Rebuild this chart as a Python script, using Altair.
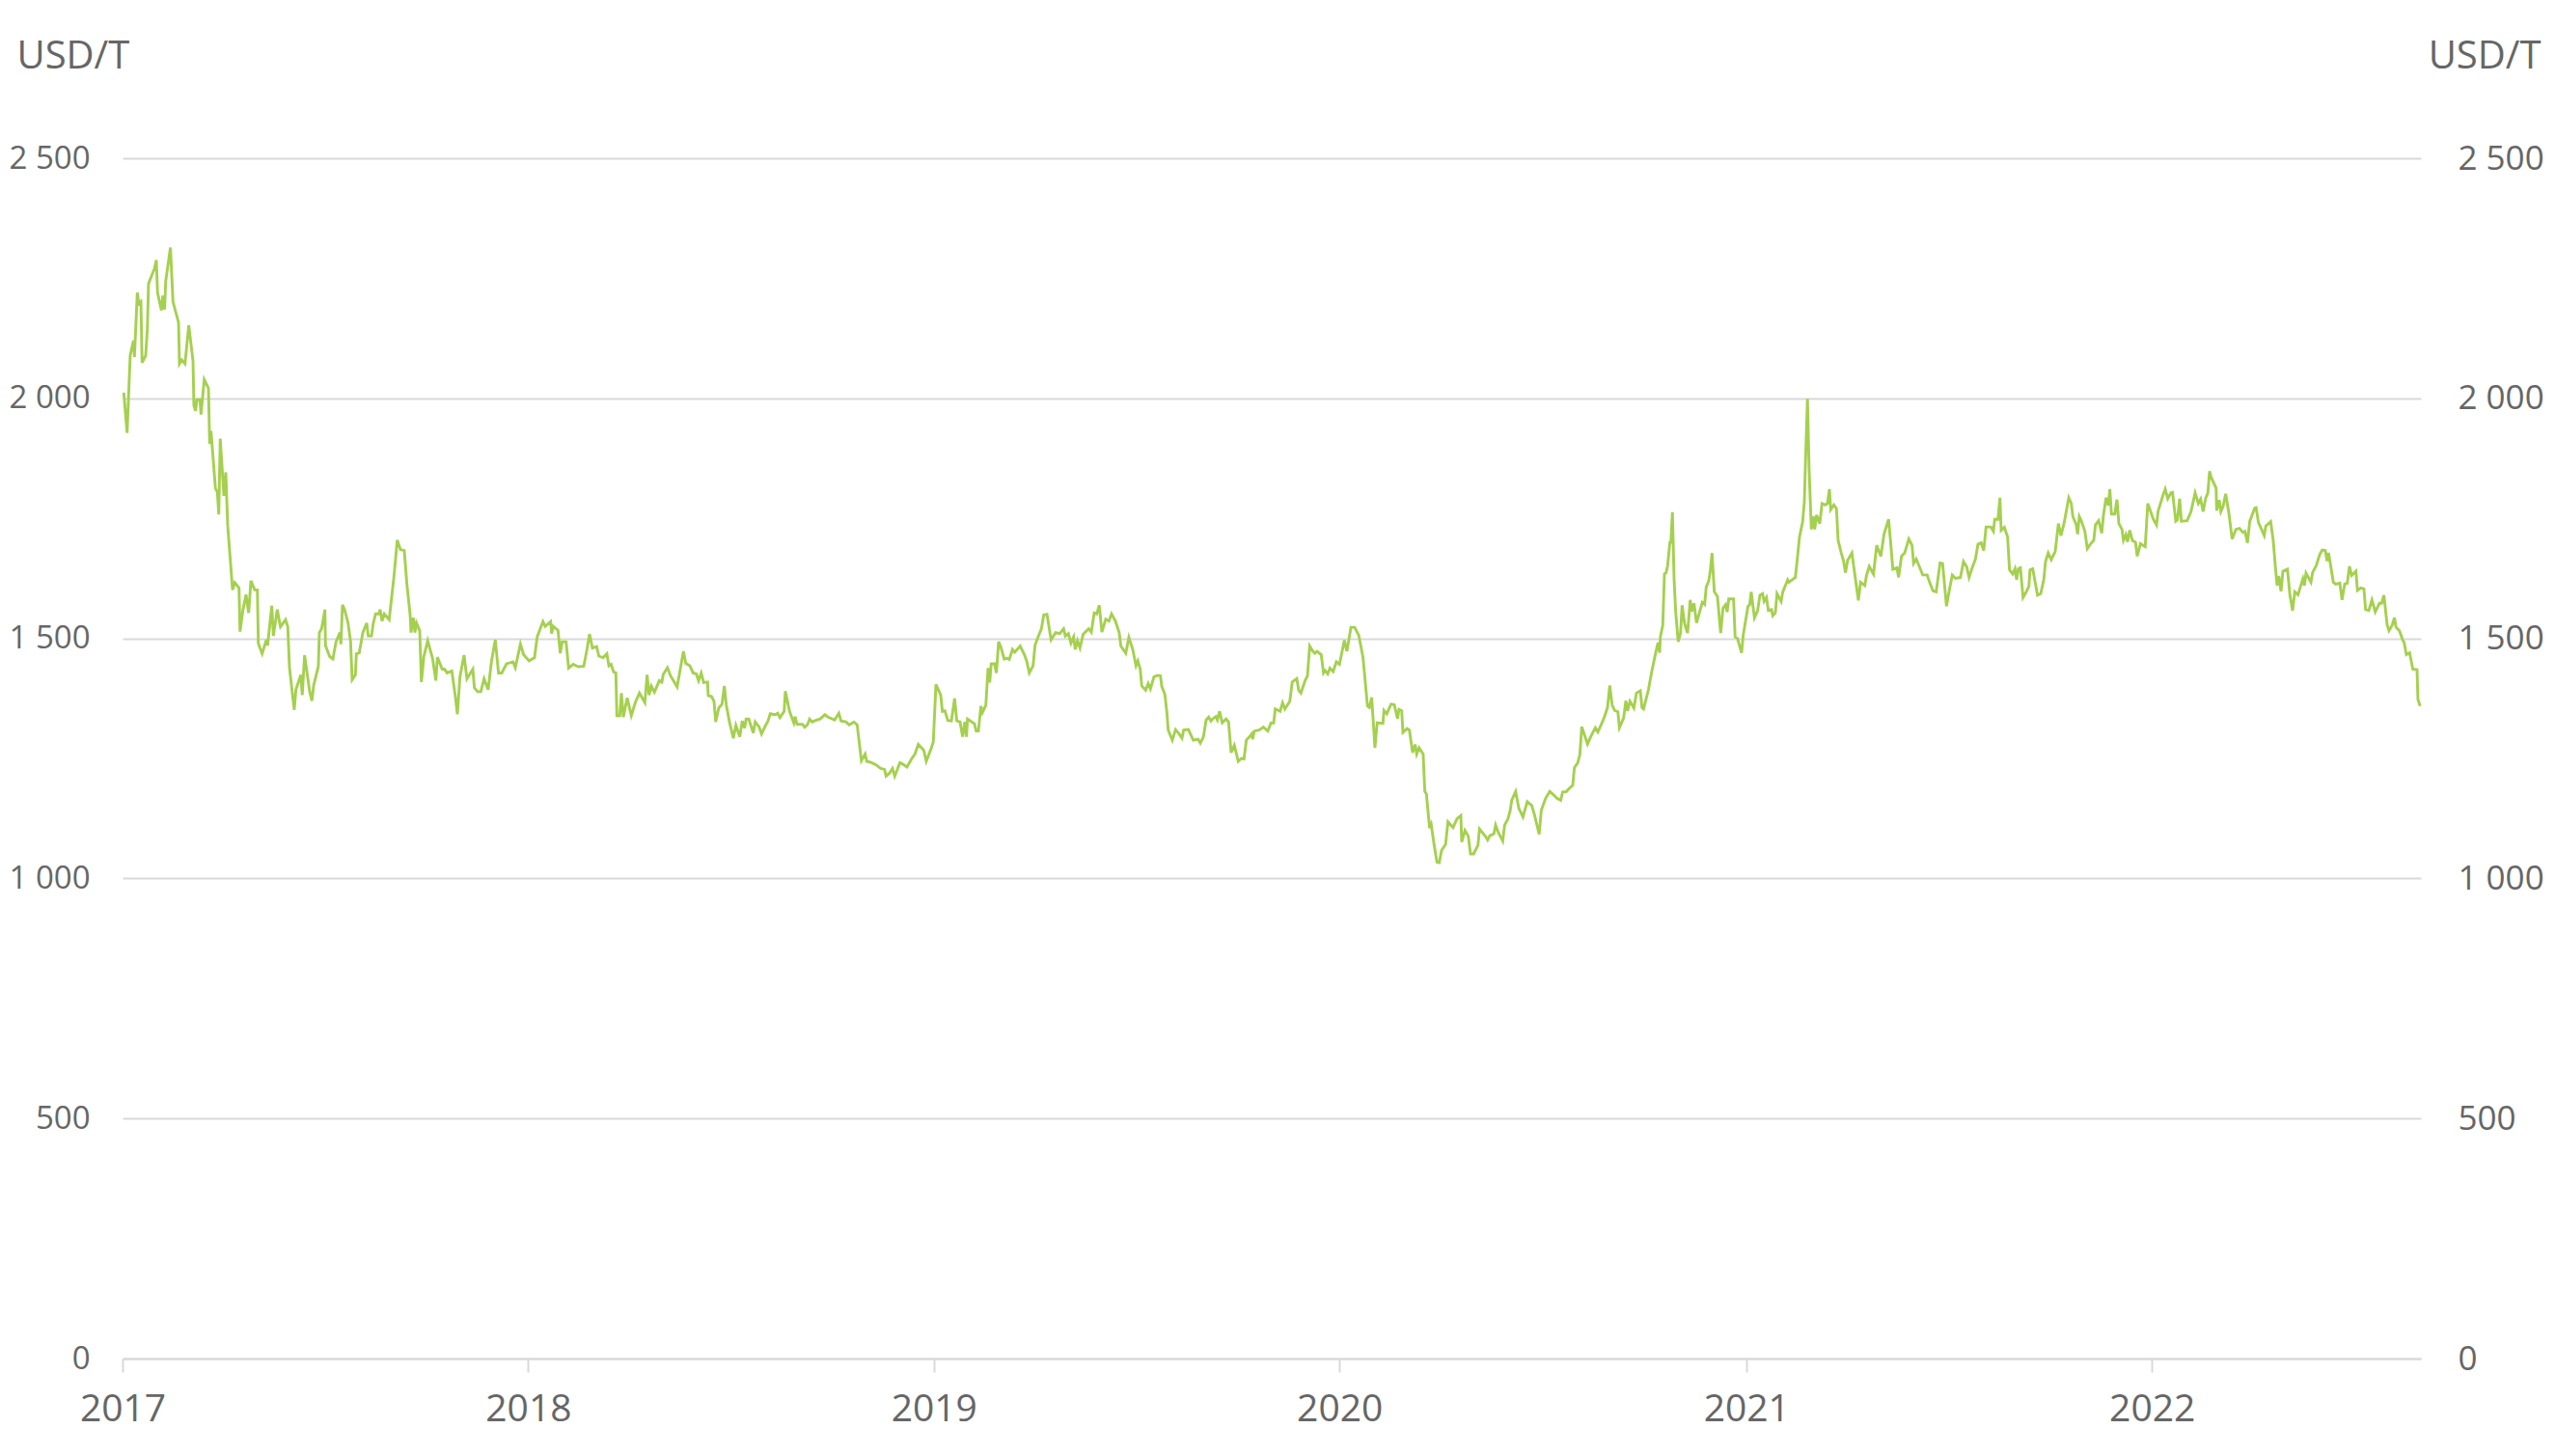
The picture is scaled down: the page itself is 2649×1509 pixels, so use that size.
import altair as alt
import pandas as pd

# ---- data (days after 2017-01-01, price USD/T) ----
DAYS_2017 = [1.1, 4.1, 6.9, 9.8, 10.7, 13.3, 14.8, 16.5, 17.6, 20.8,
             22.3, 23.4, 28.7, 30.4, 31.5, 35.0, 36.2, 37.9, 38.8, 43.1,
             45.4, 50.4, 51.2, 53.2, 56.2, 57.6, 59.6, 63.4, 64.2, 65.7,
             66.9, 69.7, 70.6, 73.5, 77.3, 78.4, 79.6, 83.6, 85.3, 86.6,
             87.9, 91.2, 92.9, 94.6, 99.0, 101.0, 104.8, 105.7, 108.3, 111.1,
             113.5, 115.5, 118.9, 121.3, 122.2, 125.6, 129.4, 130.5, 134.3, 135.7,
             139.2, 142.1, 146.7, 148.7, 150.2, 154.5, 156.0, 160.4, 161.7, 163.8,
             168.4, 170.4, 171.9, 176.2, 177.1, 179.1, 182.1, 182.6, 186.4, 189.3,
             192.1, 195.6, 196.5, 197.9, 199.9, 202.9, 205.2, 206.6, 209.5, 210.4,
             213.0, 216.2, 219.7, 221.1, 224.0, 225.5, 227.7, 230.7, 231.8, 233.5,
             235.5, 239.9, 244.2, 247.2, 250.0, 253.5, 255.9, 258.7, 259.6, 261.6,
             263.1, 264.5, 267.4, 268.9, 271.1, 274.6, 279.0, 281.9, 283.3, 287.6,
             289.7, 292.0, 296.3, 299.3, 301.3, 303.6, 307.3, 309.9, 315.2, 316.6,
             319.5, 322.4, 325.3, 329.0, 331.9, 335.4, 338.3, 341.2, 345.5, 351.4,
             353.4, 358.0]
PRICE_2017 = [2012, 1928, 2089, 2120, 2086, 2220, 2197, 2201, 2074, 2089,
              2143, 2239, 2270, 2288, 2220, 2183, 2214, 2185, 2243, 2314,
              2201, 2158, 2072, 2080, 2072, 2105, 2152, 2078, 1985, 1974,
              1997, 1997, 1966, 2039, 2021, 1905, 1932, 1812, 1805, 1758,
              1916, 1797, 1846, 1736, 1601, 1616, 1605, 1514, 1559, 1591,
              1553, 1620, 1601, 1601, 1489, 1468, 1497, 1485, 1568, 1505,
              1560, 1524, 1539, 1524, 1439, 1351, 1393, 1424, 1382, 1465,
              1389, 1370, 1401, 1442, 1512, 1520, 1560, 1485, 1462, 1457,
              1493, 1512, 1488, 1570, 1559, 1532, 1493, 1414, 1424, 1468,
              1470, 1512, 1532, 1505, 1505, 1530, 1551, 1551, 1560, 1536,
              1551, 1539, 1628, 1705, 1685, 1683, 1612, 1551, 1512, 1543,
              1512, 1532, 1516, 1409, 1462, 1495, 1458, 1412, 1461, 1436,
              1436, 1428, 1432, 1382, 1342, 1420, 1465, 1416, 1436, 1397,
              1389, 1389, 1416, 1393, 1451, 1497, 1428, 1428, 1447, 1451,
              1439, 1488]

DAYS_2018 = [360.9, 365.8, 370.7, 373.1, 375.3, 378.3, 380.3, 385.2, 386.1, 387.5,
             391.8, 393.9, 395.6, 399.1, 401.4, 405.5, 410.1, 415.0, 417.9, 420.2,
             422.8, 426.6, 428.6, 432.4, 435.8, 437.6, 439.6, 441.9, 443.9, 444.8,
             447.4, 448.9, 450.6, 454.1, 457.8, 461.3, 465.1, 470.0, 472.0, 473.8,
             475.8, 478.6, 483.0, 485.3, 486.5, 490.3, 493.1, 499.0, 504.7, 506.8,
             510.5, 513.4, 516.3, 518.3, 520.7, 522.9, 526.4, 527.0, 529.9, 532.2,
             533.7, 536.5, 539.4, 541.5, 543.2, 546.1, 549.6, 551.9, 555.4, 557.6,
             559.7, 561.1, 563.5, 567.5, 569.3, 572.7, 575.0, 578.0, 580.8, 582.8,
             587.2, 589.5, 591.5, 595.3, 596.4, 600.2, 604.0, 605.1, 606.9, 611.8,
             613.8, 616.2, 618.2, 620.5, 624.8, 627.7, 632.0, 634.9, 640.7, 644.5,
             646.5, 650.9, 653.8, 658.1, 661.0, 664.8, 668.2, 669.6, 674.0, 678.3,
             682.2, 685.6, 687.0, 690.0, 692.8, 694.8, 699.5, 701.5, 705.8, 710.2,
             713.0, 716.0, 718.9, 720.9, 723.2]
PRICE_2018 = [1466, 1453, 1460, 1503, 1517, 1535, 1525, 1535, 1510, 1525,
              1517, 1469, 1493, 1493, 1438, 1446, 1441, 1442, 1477, 1509,
              1480, 1483, 1463, 1460, 1468, 1443, 1446, 1430, 1428, 1339,
              1339, 1386, 1336, 1376, 1339, 1366, 1386, 1366, 1424, 1382,
              1401, 1388, 1412, 1409, 1425, 1439, 1422, 1399, 1473, 1448,
              1443, 1428, 1426, 1412, 1428, 1408, 1409, 1381, 1379, 1369,
              1326, 1355, 1363, 1401, 1362, 1326, 1292, 1319, 1295, 1328,
              1313, 1332, 1332, 1303, 1326, 1316, 1301, 1316, 1328, 1343,
              1341, 1344, 1335, 1348, 1390, 1348, 1324, 1337, 1321, 1321,
              1315, 1320, 1332, 1326, 1330, 1332, 1341, 1336, 1330, 1344,
              1328, 1326, 1320, 1326, 1320, 1245, 1259, 1244, 1241, 1236,
              1229, 1227, 1213, 1219, 1229, 1213, 1241, 1239, 1232, 1250,
              1259, 1279, 1272, 1267, 1244]

DAYS_2019 = [727.5, 729.5, 731.9, 736.2, 737.7, 740.0, 742.6, 745.8, 748.7, 750.7,
             753.6, 755.9, 757.9, 759.4, 760.3, 766.6, 768.1, 770.1, 772.4, 773.8,
             776.8, 778.8, 780.3, 781.6, 784.6, 786.3, 788.3, 790.3, 793.3, 795.5,
             797.9, 800.8, 802.8, 807.7, 811.5, 813.5, 815.9, 819.3, 821.1, 823.9,
             826.8, 828.9, 831.8, 835.5, 839.6, 843.3, 846.8, 848.3, 851.1, 853.4,
             855.8, 857.2, 859.3, 861.5, 864.4, 869.3, 871.7, 874.3, 876.6, 878.9,
             881.2, 884.7, 887.6, 889.9, 893.4, 896.8, 898.3, 902.7, 905.5, 909.0,
             911.9, 913.6, 915.7, 917.1, 920.6, 922.9, 924.9, 928.1, 931.6, 933.9,
             935.1, 937.9, 939.7, 940.9, 944.6, 947.5, 950.4, 953.3, 954.8, 959.1,
             963.4, 967.8, 969.8, 972.6, 975.0, 977.3, 979.3, 980.8, 983.7, 985.1,
             987.1, 989.5, 992.9, 995.2, 997.5, 1000.4, 1003.9, 1006.8, 1009.1, 1011.2,
             1014.0, 1016.0, 1016.9, 1018.4, 1022.7, 1026.5, 1030.5, 1033.4, 1035.8, 1037.2,
             1041.6, 1043.8, 1045.9, 1050.3, 1052.5, 1056.6, 1058.3, 1060.3, 1064.1, 1066.2,
             1068.2, 1070.5, 1072.8, 1074.8, 1078.6, 1080.6, 1082.0, 1084.4, 1086.4, 1089.3,
             1092.2, 1095.0, 1099.4, 1101.7, 1105.3]
PRICE_2019 = [1270, 1284, 1404, 1382, 1348, 1349, 1329, 1328, 1375, 1328,
              1326, 1295, 1326, 1295, 1332, 1322, 1307, 1307, 1359, 1346,
              1361, 1438, 1408, 1447, 1447, 1428, 1493, 1482, 1457, 1459,
              1456, 1477, 1471, 1484, 1466, 1453, 1428, 1443, 1486, 1503,
              1520, 1549, 1550, 1497, 1512, 1510, 1520, 1505, 1510, 1490,
              1503, 1477, 1495, 1480, 1509, 1520, 1513, 1553, 1551, 1569,
              1513, 1540, 1536, 1551, 1536, 1512, 1484, 1469, 1502, 1477,
              1443, 1453, 1436, 1401, 1392, 1406, 1395, 1420, 1423, 1422,
              1400, 1383, 1346, 1309, 1288, 1310, 1302, 1292, 1309, 1310,
              1288, 1290, 1282, 1295, 1330, 1336, 1328, 1332, 1337, 1330,
              1348, 1324, 1332, 1326, 1262, 1277, 1244, 1250, 1249, 1288,
              1295, 1301, 1290, 1307, 1309, 1315, 1307, 1324, 1324, 1353,
              1348, 1366, 1353, 1369, 1409, 1416, 1392, 1386, 1412, 1422,
              1484, 1475, 1469, 1473, 1466, 1428, 1433, 1426, 1438, 1431,
              1451, 1446, 1496, 1473, 1523]

DAYS_2020 = [1108.7, 1112.4, 1116.2, 1120.2, 1121.9, 1124.0, 1126.9, 1128.9, 1134.1, 1135.0,
             1137.6, 1141.4, 1144.3, 1147.2, 1148.6, 1151.0, 1152.1, 1155.8, 1157.9, 1160.8,
             1163.1, 1164.5, 1166.6, 1170.3, 1171.8, 1173.2, 1176.1, 1177.5, 1179.9, 1182.7,
             1184.8, 1186.8, 1190.5, 1192.6, 1197.2, 1200.7, 1204.2, 1205.0, 1207.9, 1210.9,
             1212.9, 1215.7, 1219.6, 1221.0, 1226.2, 1228.3, 1230.3, 1234.0, 1235.5, 1237.9,
             1241.9, 1243.6, 1246.6, 1248.6, 1250.0, 1253.5, 1256.4, 1260.1, 1264.0, 1268.0,
             1270.3, 1274.7, 1276.6, 1280.5, 1284.2, 1287.7, 1290.6, 1294.1, 1295.8, 1299.3,
             1302.0, 1304.9, 1306.4, 1309.3, 1311.3, 1313.0, 1318.2, 1320.8, 1325.2, 1327.5,
             1331.0, 1333.3, 1336.2, 1338.2, 1340.3, 1342.5, 1345.5, 1346.9, 1350.7, 1352.7,
             1354.2, 1356.4, 1359.9, 1362.2, 1365.7, 1367.2, 1368.6, 1373.0, 1375.9, 1379.6,
             1381.6, 1383.1, 1383.7, 1385.9,
             1387.4, 1388.9, 1390.2, 1392.3, 1393.2, 1394.6, 1396.1, 1397.5, 1399.8, 1401.9,
             1403.3, 1405.6, 1408.2, 1410.6, 1412.0, 1414.0, 1416.3, 1419.2, 1421.5, 1423.6,
             1425.0, 1427.3, 1428.8, 1430.2, 1432.3, 1435.1, 1438.0, 1440.1, 1442.4, 1443.8,
             1445.3, 1449.6, 1451.0, 1453.1, 1456.8, 1458.3, 1462.6, 1464.1, 1465.5, 1468.4,
             1471.3]
PRICE_2020 = [1523, 1506, 1460, 1359, 1356, 1377, 1272, 1324, 1323, 1350,
              1343, 1363, 1362, 1333, 1352, 1349, 1304, 1312, 1309, 1262,
              1279, 1259, 1272, 1259, 1181, 1176, 1105, 1113, 1074, 1034,
              1033, 1058, 1071, 1118, 1106, 1124, 1131, 1076, 1100, 1088,
              1051, 1051, 1069, 1103, 1088, 1080, 1089, 1093, 1111, 1096,
              1078, 1111, 1124, 1141, 1163, 1181, 1146, 1128, 1160, 1152,
              1134, 1092, 1142, 1167, 1181, 1174, 1167, 1163, 1180, 1181,
              1188, 1194, 1231, 1240, 1258, 1316, 1280, 1294, 1314, 1305,
              1323, 1336, 1356, 1402, 1362, 1350, 1347, 1314, 1334, 1370,
              1349, 1369, 1355, 1386, 1391, 1356, 1353, 1393, 1430, 1471,
              1491, 1470, 1503, 1527,
              1634, 1637, 1650, 1700, 1700, 1763, 1623, 1556, 1493, 1511,
              1569, 1530, 1511, 1580, 1556, 1573, 1532, 1556, 1575, 1571,
              1607, 1620, 1643, 1678, 1597, 1587, 1511, 1563, 1570, 1555,
              1582, 1582, 1503, 1500, 1470, 1507, 1567, 1570, 1597, 1543,
              1558]

DAYS_2021 = [1473.3, 1475.7, 1477.1, 1479.2, 1480.9, 1483.8, 1484.9, 1487.2, 1488.7, 1492.4,
             1493.9, 1498.3, 1499.4, 1505.2, 1506.9, 1508.9, 1511.8, 1513.3, 1514.1, 1516.1,
             1517.6, 1519.6, 1521.3, 1522.6, 1524.3, 1527.2, 1529.2, 1532.1, 1534.1, 1535.9,
             1537.0, 1539.9, 1542.2, 1543.7, 1546.5, 1548.6, 1550.3, 1552.3, 1556.1, 1561.9,
             1563.9, 1567.7, 1569.1, 1571.7, 1575.5, 1578.4, 1582.1, 1585.0, 1589.1, 1590.8,
             1592.9, 1596.6, 1598.1, 1600.7, 1603.6, 1607.3, 1610.2, 1611.6, 1614.0, 1616.0,
             1619.8, 1623.8, 1626.1, 1629.0, 1631.9, 1635.4, 1637.7, 1641.2, 1643.5, 1646.4,
             1649.3, 1653.7, 1656.5, 1659.4, 1661.5, 1664.3, 1667.2, 1669.5, 1672.4, 1674.7,
             1676.8, 1681.1, 1683.4, 1684.6, 1687.5, 1689.3, 1690.4, 1693.3, 1696.2, 1697.9,
             1700.8, 1702.8, 1704.3, 1705.8, 1707.7, 1710.1, 1713.0, 1715.3, 1716.4, 1718.8,
             1723.1, 1726.0, 1728.8, 1730.3, 1732.7, 1735.5, 1739.0, 1741.9, 1744.2, 1747.1,
             1751.2, 1753.5, 1754.9, 1757.9, 1759.2, 1760.7, 1762.7, 1765.7, 1767.9, 1770.9,
             1773.7, 1775.2, 1778.1, 1780.9, 1782.4, 1784.8, 1786.8, 1788.2, 1789.6, 1792.6,
             1794.6, 1796.3, 1799.1, 1800.4, 1802.6, 1804.1, 1806.1, 1808.4]
PRICE_2021 = [1590, 1593, 1577, 1585, 1558, 1560, 1547, 1553, 1593, 1577,
              1597, 1622, 1617, 1627, 1664, 1711, 1744, 1784, 1851, 1999,
              1851, 1727, 1754, 1727, 1757, 1739, 1781, 1778, 1781, 1811,
              1768, 1778, 1770, 1704, 1678, 1661, 1637, 1663, 1678, 1579,
              1617, 1610, 1630, 1650, 1634, 1694, 1671, 1717, 1748, 1704,
              1644, 1647, 1627, 1671, 1678, 1707, 1694, 1656, 1665, 1654,
              1632, 1632, 1616, 1599, 1597, 1657, 1656, 1567, 1597, 1632,
              1625, 1627, 1660, 1649, 1627, 1647, 1665, 1696, 1699, 1683,
              1732, 1732, 1723, 1748, 1748, 1793, 1725, 1731, 1711, 1643,
              1634, 1645, 1622, 1645, 1647, 1585, 1597, 1608, 1643, 1645,
              1590, 1593, 1623, 1660, 1678, 1664, 1681, 1739, 1714, 1741,
              1793, 1781, 1754, 1737, 1717, 1754, 1744, 1723, 1687, 1697,
              1704, 1736, 1745, 1719, 1756, 1793, 1777, 1811, 1759, 1759,
              1789, 1739, 1727, 1704, 1716, 1701, 1725, 1704]

DAYS_2022 = [1811.3, 1812.8, 1815.7, 1820.0, 1822.3, 1827.3, 1830.2, 1831.6, 1836.0, 1838.0,
             1840.3, 1843.2, 1844.6, 1847.5, 1849.0, 1851.0, 1852.5, 1857.7, 1861.2, 1864.9,
             1867.8, 1869.9, 1872.1, 1874.4, 1876.4, 1877.9, 1879.4, 1883.8, 1884.3, 1886.6,
             1888.1, 1890.1, 1892.4, 1895.3, 1898.2, 1901.6, 1904.8, 1907.7, 1909.8, 1912.0,
             1914.1, 1918.5, 1919.8, 1921.9, 1923.7, 1927.1, 1928.5, 1932.9, 1935.2, 1937.2,
             1938.7, 1940.2, 1942.2, 1943.9, 1948.0, 1950.2, 1952.6, 1954.6, 1957.5, 1961.9,
             1963.3, 1964.7, 1969.1, 1970.6, 1974.0, 1976.9, 1979.2, 1982.1, 1983.6, 1985.0,
             1989.3, 1991.4, 1995.1, 1997.1, 1999.5, 2001.8, 2003.8, 2005.8, 2009.6, 2011.0,
             2014.0, 2016.8, 2018.3, 2021.2, 2024.0, 2027.0, 2030.7, 2032.7, 2034.8, 2037.7,
             2039.4, 2042.3, 2044.3, 2045.7, 2048.7, 2051.5, 2053.0, 2055.0, 2057.9, 2060.8,
             2064.6, 2065.4, 2067.4]
PRICE_2022 = [1700, 1671, 1697, 1691, 1781, 1748, 1736, 1765, 1798, 1811,
              1791, 1803, 1804, 1744, 1747, 1791, 1744, 1745, 1764, 1803,
              1781, 1790, 1764, 1792, 1803, 1848, 1835, 1813, 1766, 1788,
              1764, 1775, 1801, 1761, 1707, 1727, 1729, 1721, 1723, 1699,
              1744, 1771, 1772, 1741, 1732, 1714, 1734, 1743, 1704, 1647,
              1610, 1630, 1598, 1640, 1644, 1590, 1558, 1597, 1591, 1624,
              1610, 1636, 1617, 1637, 1652, 1674, 1684, 1683, 1661, 1678,
              1617, 1613, 1615, 1580, 1613, 1615, 1650, 1631, 1640, 1600,
              1605, 1603, 1560, 1558, 1580, 1555, 1573, 1573, 1590, 1528,
              1516, 1528, 1543, 1523, 1516, 1498, 1491, 1466, 1470, 1436,
              1435, 1373, 1359]

YEAR_TICKS = [2017, 2018, 2019, 2020, 2021, 2022]
PRICE_TICKS = [0, 500, 1000, 1500, 2000, 2500]
UNIT = "USD/T"

# ---- build table ----
days, prices = [], []
for d_list, p_list in [(DAYS_2017, PRICE_2017), (DAYS_2018, PRICE_2018),
                       (DAYS_2019, PRICE_2019), (DAYS_2020, PRICE_2020),
                       (DAYS_2021, PRICE_2021), (DAYS_2022, PRICE_2022)]:
    n = min(len(d_list), len(p_list))
    days += d_list[:n]
    prices += p_list[:n]

base = pd.Timestamp("2017-01-01")
df = pd.DataFrame({
    "date": base + pd.to_timedelta(days, unit="D"),
    "price": prices,
    "i": list(range(len(days))),
})

LINE = "#a5d04f"
GRID = "#d9d9d9"
TXT = "#666666"
FONT = "Open Sans"

x_enc = alt.X(
    "date:T",
    title=None,
    scale=alt.Scale(
        domain=[alt.DateTime(year=2017, month=1, date=1),
                alt.DateTime(year=2022, month=8, date=31, hours=2)],
        nice=False,
    ),
    axis=alt.Axis(
        values=[alt.DateTime(year=y, month=1, date=1) for y in YEAR_TICKS],
        format="%Y",
        grid=False,
        domain=True,
        domainColor=GRID,
        domainWidth=2,
        ticks=True,
        tickSize=14,
        tickColor=GRID,
        tickWidth=2,
        labelFontSize=39,
        labelColor=TXT,
        labelFont=FONT,
        labelPadding=19,
        labelFlush=False,
    ),
)

label_expr = "replace(format(datum.value, ','), ',', ' ')"

y_left = alt.Y(
    "price:Q",
    scale=alt.Scale(domain=[0, 2500], nice=False, zero=True),
    axis=alt.Axis(
        orient="left",
        values=PRICE_TICKS,
        labelExpr=label_expr,
        grid=True,
        gridColor=GRID,
        gridWidth=2,
        domain=False,
        ticks=False,
        labelFontSize=33,
        labelColor=TXT,
        labelFont=FONT,
        labelPadding=34,
        title=UNIT,
        titleAngle=0,
        titleAlign="left",
        titleBaseline="alphabetic",
        titleX=-110,
        titleY=-94,
        titleFontSize=40,
        titleFontWeight="normal",
        titleColor=TXT,
        titleFont=FONT,
    ),
)

y_right = alt.Y(
    "price:Q",
    scale=alt.Scale(domain=[0, 2500], nice=False, zero=True),
    axis=alt.Axis(
        orient="right",
        values=PRICE_TICKS,
        labelExpr=label_expr,
        grid=False,
        domain=False,
        ticks=False,
        labelFontSize=35,
        labelColor=TXT,
        labelFont=FONT,
        labelPadding=38,
        title=UNIT,
        titleAngle=0,
        titleAlign="right",
        titleBaseline="alphabetic",
        titleX=124,
        titleY=-94,
        titleFontSize=40,
        titleFontWeight="normal",
        titleColor=TXT,
        titleFont=FONT,
    ),
)

line = alt.Chart(df).mark_line(color=LINE, strokeWidth=2.9).encode(
    x=x_enc, y=y_left, order="i:Q"
)
line_r = alt.Chart(df).mark_line(color=LINE, strokeWidth=2.9, opacity=0).encode(
    x=x_enc, y=y_right, order="i:Q"
)

chart = (
    alt.layer(line, line_r)
    .resolve_axis(y="independent")
    .properties(
        width=2382,
        height=1244,
        padding={"left": 119, "top": 156, "right": 130, "bottom": 90},
        autosize=alt.AutoSizeParams(type="none"),
        background="white",
    )
    .configure_view(stroke=None)
)

chart.save("out.html", embed_options={"renderer": "svg", "actions": False})
